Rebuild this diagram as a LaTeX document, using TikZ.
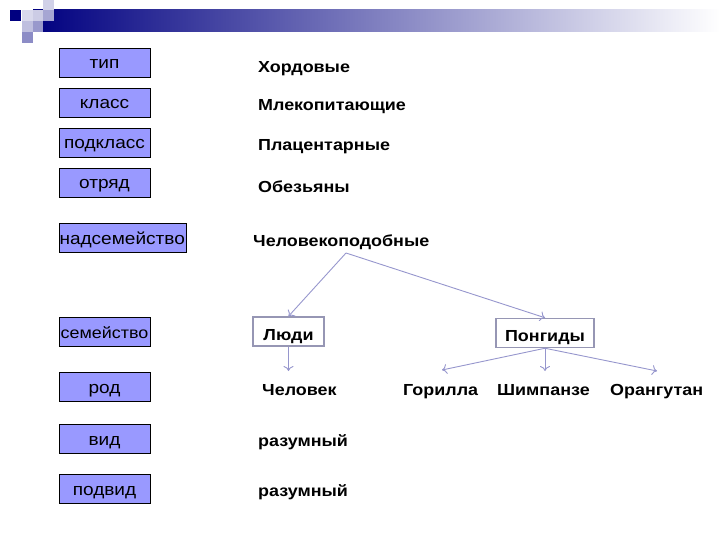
\documentclass[tikz,border=0pt]{standalone}
\usepackage{fontspec}
\setmainfont{Liberation Sans}[FakeStretch=1.12]
\usetikzlibrary{arrows.meta,calc}
\definecolor{rankfill}{RGB}{153,153,255}
\definecolor{linkgray}{RGB}{150,150,205}
\definecolor{taxedge}{RGB}{150,150,180}
\definecolor{navy}{RGB}{0,0,128}
\tikzstyle{rank} = [draw=black, fill=rankfill, minimum width=91pt, minimum height=29pt, inner sep=0pt, text height=16pt, text depth=3pt, font={\fontsize{17}{17}\selectfont}]
\tikzstyle{taxon} = [anchor=base west, inner sep=0pt, font={\fontsize{16}{16}\selectfont\bfseries}]
\tikzstyle{group} = [draw=taxedge, line width=1.5pt, fill=white, inner sep=0pt, minimum height=29pt, text height=20pt, text depth=3pt, font={\fontsize{16}{16}\selectfont\bfseries}]
\tikzstyle{link} = [draw=linkgray, line width=0.9pt, -{To[length=5pt,width=10pt]}]

\begin{document}
\begin{tikzpicture}[x=1pt, y=-1pt]
  \useasboundingbox (0,0) rectangle (720,540);

  % header bar
  \shade[left color=navy, right color=white] (33,10) rectangle (720,32);
  \fill[navy] (10,10) rectangle ++ (11,11);
  \fill[navy!15] (22,10) rectangle ++ (11,11);
  \fill[navy!25] (22,21) rectangle ++ (11,11);
  \fill[navy!45] (22,32) rectangle ++ (11,11);
  \fill[navy!20] (33,10) rectangle ++ (10,11);
  \fill[navy!40] (33,21) rectangle ++ (10,11);
  \fill[navy!35] (43,10) rectangle ++ (11,11);
  \fill[navy!18] (43,0) rectangle ++ (11,10);

  % ranks
  \node[at={(104.5,62.5)}, rank] (tip) {тип};
  \node[at={(104.5,102.5)}, rank] (klass) {класс};
  \node[at={(104.5,142.5)}, rank] (podklass) {подкласс};
  \node[at={(104.5,182.5)}, rank] (otryad) {отряд};
  \node[at={(58.5,238)}, rank, anchor=west, minimum width=127pt] (nadsem) {надсемейство};
  \node[at={(104.5,331.5)}, rank, font={\fontsize{16}{16}\selectfont}] (semeistvo) {семейство};
  \node[at={(104.5,386.5)}, rank] (rod) {род};
  \node[at={(104.5,439)}, rank] (vid) {вид};
  \node[at={(104.5,488.5)}, rank] (podvid) {подвид};

  % taxa
  \node[at={(258,72.5)}, taxon] (hord) {Хордовые};
  \node[at={(258,110.5)}, taxon] (mlek) {Млекопитающие};
  \node[at={(258,150.5)}, taxon] (plac) {Плацентарные};
  \node[at={(258,192.5)}, taxon] (obez) {Обезьяны};
  \node[at={(253,246)}, taxon] (chelpod) {Человекоподобные};
  \node[at={(288.5,331.5)}, group, minimum width=71pt] (lyudi) {Люди};
  \node[at={(545,333)}, group, minimum width=98pt] (pong) {Понгиды};
  \node[at={(262,395)}, taxon] (chel) {Человек};
  \node[at={(403,395)}, taxon] (gor) {Горилла};
  \node[at={(497,395)}, taxon] (shim) {Шимпанзе};
  \node[at={(610,395)}, taxon] (orang) {Орангутан};
  \node[at={(258,446)}, taxon] (raz) {разумный};
  \node[at={(258,496)}, taxon] (razsub) {разумный};

  % links
  \coordinate (hub) at (346,253);
  \coordinate (cheltip) at (288.5,371);
  \coordinate (gortip) at (442,370);
  \coordinate (shimtip) at (545,371);
  \coordinate (orangtip) at (657,371);
  \draw[link] (hub) -- (lyudi.north);
  \draw[link] (hub) -- (pong.north);
  \draw[link] (lyudi.south) -- (cheltip);
  \draw[link] (pong.south) -- (gortip);
  \draw[link] (pong.south) -- (shimtip);
  \draw[link] (pong.south) -- (orangtip);
\end{tikzpicture}
\end{document}
